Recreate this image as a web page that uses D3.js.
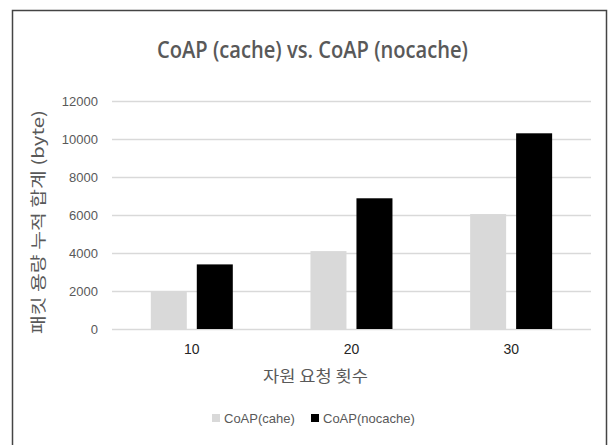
<!DOCTYPE html>
<html><head><meta charset="utf-8">
<script src="https://cdn.jsdelivr.net/npm/d3@7"></script>
<style>body{margin:0;background:#fff}svg{display:block}</style>
</head><body>
<script>
const categories = ["10", "20", "30"];
const seriesNames = ["CoAP(cahe)", "CoAP(nocache)"];
const cacheValues = [2000, 4100, 6050];
const nocacheValues = [3400, 6880, 10300];
const yTicks = [0, 2000, 4000, 6000, 8000, 10000, 12000];
const colors = ["#d9d9d9", "#000000"];

(function () {
const W = 608, H = 445;
const svg = d3.select("body").append("svg").attr("width", W).attr("height", H);
svg.append("rect").attr("width", W).attr("height", H).attr("fill", "#fff");
svg.append("path").attr("d", `M12.5,${H} V10.5 H606.5 V${H}`)
  .attr("fill", "none").attr("stroke", "#444").attr("stroke-width", 1.5);

const pLeft = 112, pRight = 591, pTop = 101, pBottom = 329;
const y = d3.scaleLinear().domain([0, 12000]).range([pBottom, pTop]);
const x0 = d3.scaleBand().domain(categories).range([pLeft, pRight]).padding(0);
const x1 = d3.scaleBand().domain(seriesNames)
  .range([38.8, 38.8 + 82]).paddingInner(0.217).paddingOuter(0);

const font = "'Liberation Sans Narrow', 'Liberation Sans', Arial, sans-serif";

const yAxis = d3.axisLeft(y).tickValues(yTicks).tickSize(-(pRight - pLeft)).tickPadding(14)
  .tickFormat(d3.format("d"));
const gy = svg.append("g").attr("transform", `translate(${pLeft},0)`).call(yAxis);
gy.select(".domain").remove();
gy.selectAll(".tick line").attr("stroke", "#d9d9d9").attr("stroke-width", 1.3);
gy.selectAll(".tick text").attr("fill", "#595959").attr("font-size", 13)
  .attr("font-family", font);

const data = categories.map((c, i) => ({cat: c, vals: [cacheValues[i], nocacheValues[i]]}));
const groups = svg.append("g").selectAll("g").data(data).join("g")
  .attr("transform", d => `translate(${x0(d.cat)},0)`);
groups.selectAll("rect").data(d => d.vals.map((v, j) => ({name: seriesNames[j], v, j})))
  .join("rect")
  .attr("x", d => x1(d.name)).attr("width", x1.bandwidth())
  .attr("y", d => y(d.v)).attr("height", d => y(0) - y(d.v))
  .attr("fill", d => colors[d.j]);

const xAxis = d3.axisBottom(x0).tickSize(0).tickPadding(15);
const gx = svg.append("g").attr("transform", `translate(0,${pBottom})`).call(xAxis);
gx.select(".domain").remove();
gx.selectAll(".tick text").attr("fill", "#262626").attr("font-size", 14)
  .attr("font-family", font).attr("font-weight", 500);

svg.append("text").attr("x", 312.5).attr("y", 58).attr("text-anchor", "middle")
  .attr("font-family", "'Open Sans', 'Liberation Sans', sans-serif").attr("font-size", 23)
  .attr("font-weight", 600).attr("fill", "#595959")
  .attr("textLength", 311).attr("lengthAdjust", "spacingAndGlyphs")
  .text("CoAP (cache) vs. CoAP (nocache)");

svg.append("text").attr("x", 315.5).attr("y", 382).attr("text-anchor", "middle")
  .attr("font-family", "'Noto Sans CJK KR', sans-serif").attr("font-size", 16)
  .attr("fill", "#595959")
  .attr("textLength", 105).attr("lengthAdjust", "spacingAndGlyphs")
  .text("자원 요청 횟수");
svg.append("text").attr("transform", "translate(44,222) rotate(-90)")
  .attr("text-anchor", "middle")
  .attr("font-family", "'Noto Sans CJK KR', sans-serif").attr("font-size", 16)
  .attr("fill", "#595959")
  .attr("textLength", 224).attr("lengthAdjust", "spacingAndGlyphs")
  .text("패킷 용량 누적 합계 (byte)");

const legX = [212, 311];
const lg = svg.append("g").selectAll("g").data(seriesNames).join("g")
  .attr("transform", (d, i) => `translate(${legX[i]},414)`);
lg.append("rect").attr("width", 8).attr("height", 8).attr("fill", (d, i) => colors[i]);
lg.append("text").attr("x", 12).attr("y", 8.5).attr("font-size", 13)
  .attr("font-family", font).attr("fill", "#595959").text(d => d);
})();
</script>
</body></html>
